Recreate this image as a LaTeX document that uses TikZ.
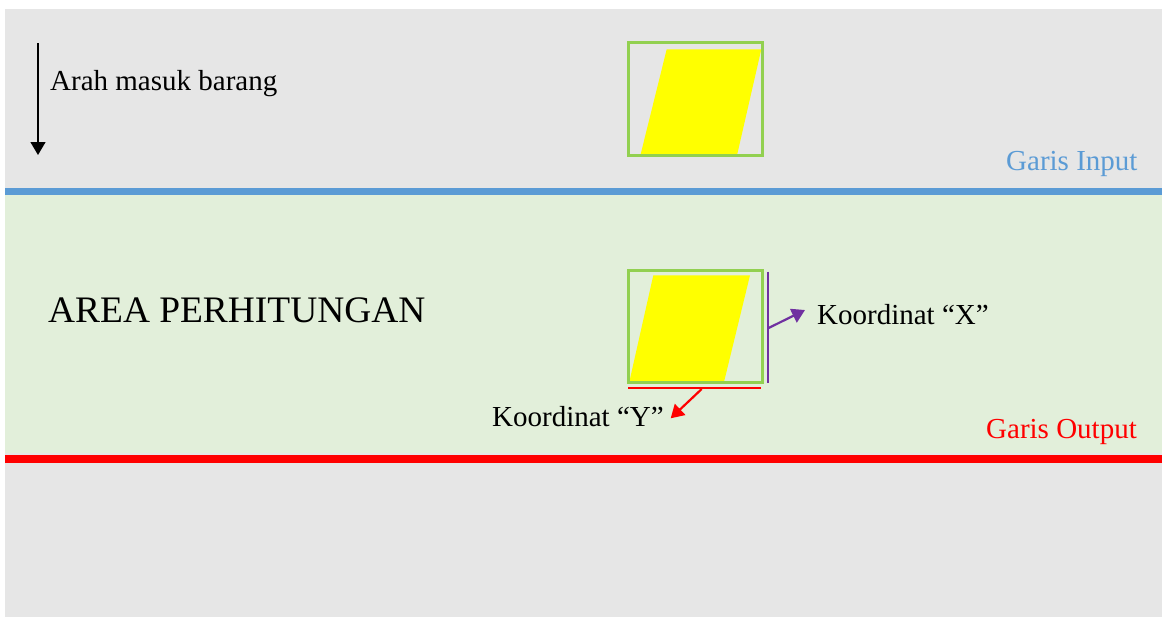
\documentclass[tikz,border=0pt]{standalone}
\usepackage{fontspec}
\setmainfont{Liberation Serif}
\usetikzlibrary{arrows.meta}
\definecolor{bggray}{RGB}{230,230,230}
\definecolor{areagreen}{RGB}{226,239,218}
\definecolor{inblue}{RGB}{91,155,213}
\definecolor{framegreen}{RGB}{146,208,80}
\definecolor{purp}{RGB}{112,48,160}
\definecolor{itemyellow}{RGB}{255,255,0}
\definecolor{outred}{RGB}{255,0,0}
\tikzset{
  lbl/.style={anchor=base west, inner sep=0pt, font=\fontsize{29}{34}\selectfont},
  frame/.style={draw=framegreen, line width=3pt},
  item/.style={fill=itemyellow, draw=none},
  ptr/.style={line width=2.2pt, -{Triangle[length=13pt,width=15pt]}},
}
\begin{document}
\begin{tikzpicture}[x=1pt,y=-1pt]
\useasboundingbox (0,0) rectangle (1162,619);
% backgrounds
\fill[bggray] (5,9) rectangle (1162,617);
\fill[areagreen] (5,195) rectangle (1162,453);
\fill[inblue] (5,188) rectangle (1162,195);
\fill[outred] (5,455) rectangle (1162,463);
% direction arrow
\coordinate (a1) at (38,43);
\coordinate (a2) at (38,155);
\draw[line width=1.3pt, -{Triangle[length=13pt,width=15pt]}] (a1) -- (a2);
\node[lbl] (arah) at (50,90) {Arah masuk barang};
% top item
\fill[item] (666.7,49.3) -- (761.3,49.3) -- (737.3,154) -- (640.7,154) -- cycle;
\node[frame, minimum width=134pt, minimum height=113pt, inner sep=0pt] (topbox) at (695.3,99) {};
% labels of lines
\node[lbl, text=inblue] (gin) at (1006,170.7) {Garis Input};
\node[lbl, text=outred] (gout) at (986,438) {Garis Output};
% area
\node[lbl, font=\fontsize{37.4}{42}\selectfont] (area) at (48,322.3) {AREA PERHITUNGAN};
% middle item
\fill[item] (653.3,275.3) -- (750,275.3) -- (724,382) -- (629.3,382) -- cycle;
\node[frame, minimum width=134pt, minimum height=112pt, inner sep=0pt] (midbox) at (695.5,326.7) {};
% X coordinate
\coordinate (xt) at (768,271.7);
\coordinate (xb) at (768,382.7);
\draw[purp, line width=2.6pt] (xt) -- (xb);
\coordinate (xs) at (768,328.3);
\node[lbl] (kx) at (817,324) {Koordinat “X”};
\coordinate (xe) at (805,310);
\draw[ptr, purp] (xs) -- (xe);
% Y coordinate
\coordinate (yl) at (628,388);
\coordinate (yr) at (761,388);
\draw[outred, line width=2.6pt] (yl) -- (yr);
\coordinate (ys) at (701.7,389);
\coordinate (ye) at (670.7,418.3);
\node[lbl] (ky) at (492,426) {Koordinat “Y”};
\draw[ptr, outred] (ys) -- (ye);
\end{tikzpicture}
\end{document}
